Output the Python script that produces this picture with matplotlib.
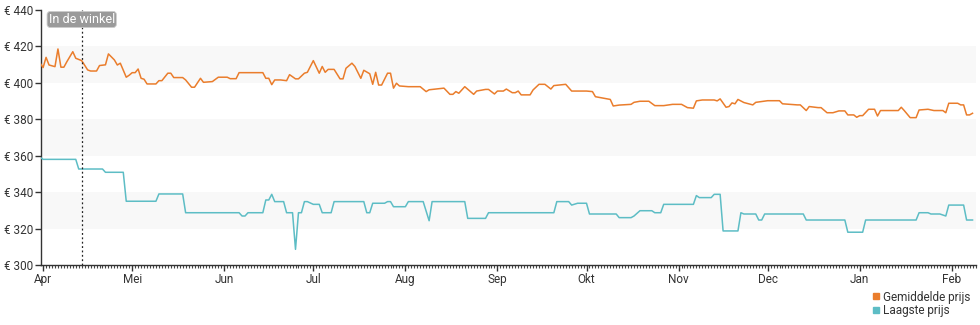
import matplotlib
matplotlib.use("Agg")
import matplotlib.pyplot as plt
import matplotlib.dates as mdates
from matplotlib.lines import Line2D
import numpy as np

plt.rcParams["font.family"] = ["Roboto", "DejaVu Sans"]

# day offsets are counted from 1 April
START = np.datetime64("2023-04-01")

avg_days = [
    -1, 0, 1, 2, 4, 5, 6, 7, 8, 10, 11, 13, 15, 16, 18, 19, 21, 22, 24, 25,
    26, 28, 29, 30, 31, 32, 33, 34, 35, 38, 39, 40, 42, 43, 44, 47, 48, 50,
    51, 53, 54, 57, 59, 62, 63, 65, 66, 74, 75, 76, 77, 78, 80, 82, 83, 85,
    86, 88, 89, 91, 93, 94, 95, 96, 98, 100, 101, 102, 104, 105, 107, 108,
    110, 111, 112, 113, 114, 116, 117, 118, 119, 120, 123, 127, 129, 130,
    135, 137, 138, 139, 140, 142, 145, 146, 149, 150, 152, 153, 155, 156,
    158, 159, 160, 161, 164, 165, 167, 169, 171, 172, 176, 178, 180, 183,
    185, 186, 189, 191, 192, 194, 198, 199, 201, 204, 206, 209, 212, 215,
    217, 219, 220, 222, 226, 227, 228, 230, 231, 232, 233, 234, 236, 239,
    240, 244, 248, 249, 254, 255, 257, 258, 261, 262, 264, 266, 268, 270,
    271, 273, 274, 275, 276, 278, 280, 281, 282, 288, 289, 290, 292, 294,
    295, 298, 300, 303, 304, 305, 308, 309, 310, 311, 312, 313,
]
avg_prices = [
    410.8, 408.4, 414.0, 409.8, 408.9, 418.6, 408.6, 408.6, 411.6, 417.1,
    413.5, 412.2, 407.1, 406.5, 406.5, 409.5, 409.9, 415.9, 412.6, 409.8,
    410.8, 403.1, 404.2, 405.6, 405.6, 407.6, 402.5, 402.0, 399.4, 399.4,
    401.2, 401.2, 405.3, 405.3, 402.9, 402.9, 401.6, 397.6, 397.6, 402.5,
    400.3, 400.7, 403.1, 403.1, 402.3, 402.3, 405.6, 405.6, 402.5, 402.5,
    399.0, 401.6, 401.6, 401.2, 404.5, 402.2, 402.2, 405.3, 405.8, 412.2,
    405.3, 409.0, 405.8, 407.4, 407.4, 402.2, 402.2, 408.0, 410.8, 409.0,
    402.5, 406.9, 405.0, 399.2, 405.8, 398.8, 398.8, 405.3, 405.3, 397.1,
    399.8, 398.3, 397.9, 397.9, 395.2, 396.2, 397.1, 393.7, 393.7, 395.2,
    394.3, 397.9, 393.7, 395.5, 396.4, 396.4, 393.9, 395.5, 395.5, 396.6,
    394.6, 394.6, 395.5, 393.4, 393.4, 396.1, 399.2, 399.2, 396.6, 398.5,
    399.2, 395.5, 395.5, 395.5, 395.2, 392.4, 391.5, 390.9, 387.3, 387.8,
    388.2, 389.3, 389.9, 389.9, 387.5, 387.5, 388.2, 388.2, 386.4, 386.1,
    390.1, 390.6, 390.6, 390.1, 391.2, 386.6, 387.0, 389.0, 388.5, 390.9,
    389.2, 387.9, 389.3, 390.2, 390.2, 388.5, 387.9, 387.9, 384.8, 387.0,
    386.4, 386.4, 383.6, 383.6, 384.6, 384.6, 382.4, 382.4, 381.1, 382.0,
    382.0, 385.5, 385.5, 381.8, 384.8, 384.8, 386.6, 384.8, 380.9, 380.9,
    385.1, 385.5, 384.8, 384.8, 383.6, 388.8, 388.8, 387.9, 387.9, 382.4,
    382.4, 383.3,
]

low_days = [
    -1, 0, 11, 12, 20, 21, 27, 28, 38, 39, 47, 48, 66, 67, 68, 69, 74, 75,
    76, 77, 78, 81, 82, 84, 85, 86, 87, 88, 89, 91, 93, 94, 97, 98, 108, 109,
    110, 111, 115, 116, 117, 118, 122, 123, 128, 130, 131, 142, 143, 149,
    150, 172, 173, 177, 178, 180, 183, 184, 193, 194, 198, 199, 201, 205,
    206, 208, 209, 219, 220, 221, 225, 226, 228, 229, 234, 235, 236, 240,
    241, 242, 243, 256, 257, 270, 271, 276, 277, 294, 295, 298, 299, 302,
    304, 305, 310, 311, 313,
]
low_prices = [
    359.1, 358.0, 358.0, 352.7, 352.7, 350.9, 350.9, 335.0, 335.0, 339.0,
    339.0, 328.7, 328.7, 326.9, 326.9, 328.7, 328.7, 335.7, 335.7, 338.8,
    334.8, 334.8, 328.7, 328.7, 308.6, 328.7, 328.7, 334.8, 334.8, 333.3,
    333.3, 328.7, 328.7, 334.8, 334.8, 328.7, 328.7, 333.9, 333.9, 334.8,
    334.8, 332.0, 332.0, 334.8, 334.8, 324.3, 334.8, 334.8, 325.6, 325.6,
    328.7, 328.7, 334.8, 334.8, 332.9, 333.9, 333.9, 328.0, 328.0, 326.0,
    326.0, 326.9, 329.8, 329.8, 328.7, 328.7, 333.3, 333.3, 338.1, 337.0,
    337.0, 338.8, 338.8, 318.7, 318.7, 328.7, 328.0, 328.0, 324.7, 324.7,
    328.0, 328.0, 324.7, 324.7, 318.0, 318.0, 324.7, 324.7, 328.7, 328.7,
    328.0, 328.0, 326.9, 332.9, 332.9, 324.7, 324.7,
]

store_day = 13
store_label = "In de winkel"

month_labels = ["Apr", "Mei", "Jun", "Jul", "Aug", "Sep", "Okt", "Nov", "Dec", "Jan", "Feb"]
y_ticks = [300, 320, 340, 360, 380, 400, 420, 440]

series_names = ["Gemiddelde prijs", "Laagste prijs"]
ORANGE = "#ea7d2c"
TEAL = "#5dbdc5"
TEXT = "#333333"


def to_dates(days):
    return START + np.array(days, dtype="timedelta64[D]")


fig = plt.figure(figsize=(9.8, 3.25), dpi=100)
ax = fig.add_axes([40.5 / 980, 60 / 325, 935 / 980, 255 / 325])

# alternating background bands
for lo in (320, 360, 400):
    ax.axhspan(lo, lo + 20, color="#f8f8f8", lw=0, zorder=0)

ax.plot(to_dates(avg_days), avg_prices, color=ORANGE, lw=1.1, zorder=3)
ax.plot(to_dates(low_days), low_prices, color=TEAL, lw=1.1, zorder=3)

store_date = to_dates([store_day])[0]
ax.axvline(store_date, color="#222222", lw=0.9, ls=(0, (1.5, 2)), zorder=4)
ax.text(store_date, 434.8, store_label, ha="center", va="center", fontsize=9,
        color="white", zorder=5,
        bbox=dict(boxstyle="round,pad=0.12,rounding_size=0.25", fc="#9a9a9a", ec="#cccccc", lw=0.6))

ax.set_ylim(300, 440)
ax.set_yticks(y_ticks)
ax.set_yticklabels([f"€ {v}" for v in y_ticks])

month_dates = [np.datetime64(np.datetime64("2023-04", "M") + np.timedelta64(i, "M"), "D")
               for i in range(len(month_labels))]
ax.set_xticks(month_dates)
ax.set_xticklabels(month_labels)
ax.xaxis.set_minor_locator(mdates.DayLocator())
ax.set_xlim(START - np.timedelta64(21, "h"), START + np.timedelta64(314, "D"))

for side in ("top", "right"):
    ax.spines[side].set_visible(False)
for side in ("left", "bottom"):
    ax.spines[side].set_color(TEXT)
    ax.spines[side].set_linewidth(1.0)

ax.tick_params(axis="both", which="major", length=4, width=1.0, color=TEXT,
               labelsize=8.5, labelcolor=TEXT, pad=1.5)
ax.tick_params(axis="x", which="minor", length=2, width=0.8, color="#444444")

handles = [Line2D([], [], ls="none", marker="s", ms=4.5, color=c) for c in (ORANGE, TEAL)]
fig.legend(handles, series_names, loc="lower right", bbox_to_anchor=(1.0, -0.005),
           frameon=False, fontsize=8.5, handlelength=0.6, handletextpad=0.3,
           labelspacing=0.05, borderpad=0.3, labelcolor=TEXT)

fig.savefig("out.png", dpi=100)
